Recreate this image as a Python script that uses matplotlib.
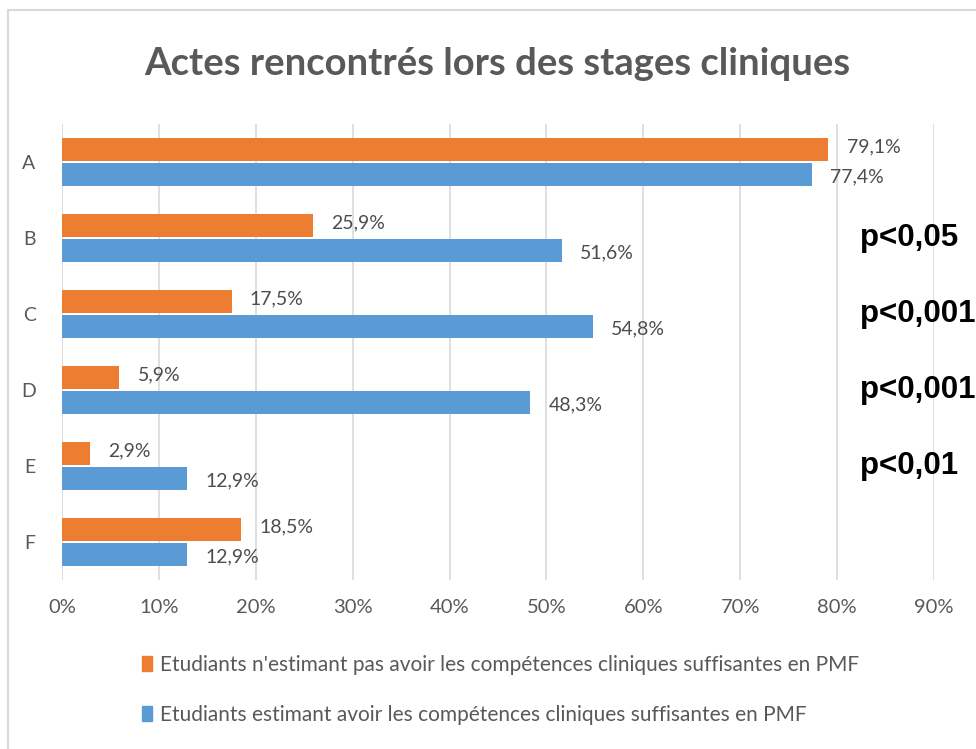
import matplotlib.pyplot as plt
import numpy as np
from matplotlib.lines import Line2D
from matplotlib.patches import Patch

categories = ['A', 'B', 'C', 'D', 'E', 'F']
pas_competents = [79.1, 25.9, 17.5, 5.9, 2.9, 18.5]
competents = [77.4, 51.6, 54.8, 48.3, 12.9, 12.9]
p_values = ['', 'p<0,05', 'p<0,001', 'p<0,001', 'p<0,01', '']
xticks = [0, 10, 20, 30, 40, 50, 60, 70, 80, 90]

orange = '#ED7D31'
blue = '#5B9BD5'
grey = '#595959'
font = 'Lato'

fig = plt.figure(figsize=[9.76, 7.49], dpi=100)
ax = fig.add_axes([0.0635, 0.2256, 0.8935, 0.6088])

# frame of the chart (top + left only visible)
fig.add_artist(Line2D([8/976, 1.0], [1-10/749, 1-10/749], color='#d9d9d9', lw=1.5))
fig.add_artist(Line2D([8/976, 8/976], [0.0, 1-10/749], color='#d9d9d9', lw=1.5))

y = np.arange(len(categories))
h = 0.31
ax.barh(y - h/2 - 0.01, pas_competents, height=h, color=orange, zorder=3)
ax.barh(y + h/2 + 0.01, competents, height=h, color=blue, zorder=3)

for yi, v in zip(y, pas_competents):
    ax.text(v + 1.9, yi - h/2 - 0.04, f'{v:.1f}%'.replace('.', ','),
            va='center', ha='left', fontsize=14, color='#4d4d4d', family=font)
for yi, v in zip(y, competents):
    ax.text(v + 1.9, yi + h/2 + 0.04, f'{v:.1f}%'.replace('.', ','),
            va='center', ha='left', fontsize=14, color='#4d4d4d', family=font)

for yi, p in zip(y, p_values):
    if p:
        ax.text(82.4, yi, p, va='center', ha='left', fontsize=22.5,
                fontweight='bold', color='black', family='Liberation Sans')

ax.set_xlim(0, 90)
ax.set_ylim(len(categories) - 0.5, -0.5)
ax.set_xticks(xticks)
ax.set_xticklabels([f'{t}%' for t in xticks], fontsize=14.5, color=grey, family=font)
ax.set_yticks(y)
ax.set_yticklabels(categories, fontsize=14, color=grey, family=font)
ax.tick_params(length=0, pad=14)
ax.tick_params(axis='y', pad=19)
ax.grid(axis='x', color='#d9d9d9', lw=1.2, zorder=0)
for s in ax.spines.values():
    s.set_visible(False)

fig.text(0.509, 0.915, 'Actes rencontrés lors des stages cliniques', ha='center',
         va='center', fontsize=27.5, fontweight='bold', color=grey, family=font)

handles = [Patch(color=orange), Patch(color=blue)]
labels = ["Etudiants n'estimant pas avoir les compétences cliniques suffisantes en PMF",
          "Etudiants estimant avoir les compétences cliniques suffisantes en PMF"]
fig.legend(handles, labels, loc='upper left', bbox_to_anchor=(0.137, 0.137),
           frameon=False, prop={'family': font, 'size': 15},
           handlelength=0.5, handleheight=0.7, handletextpad=0.35,
           labelspacing=1.45, labelcolor=grey, borderaxespad=0)

fig.savefig('out.png', dpi=100)
